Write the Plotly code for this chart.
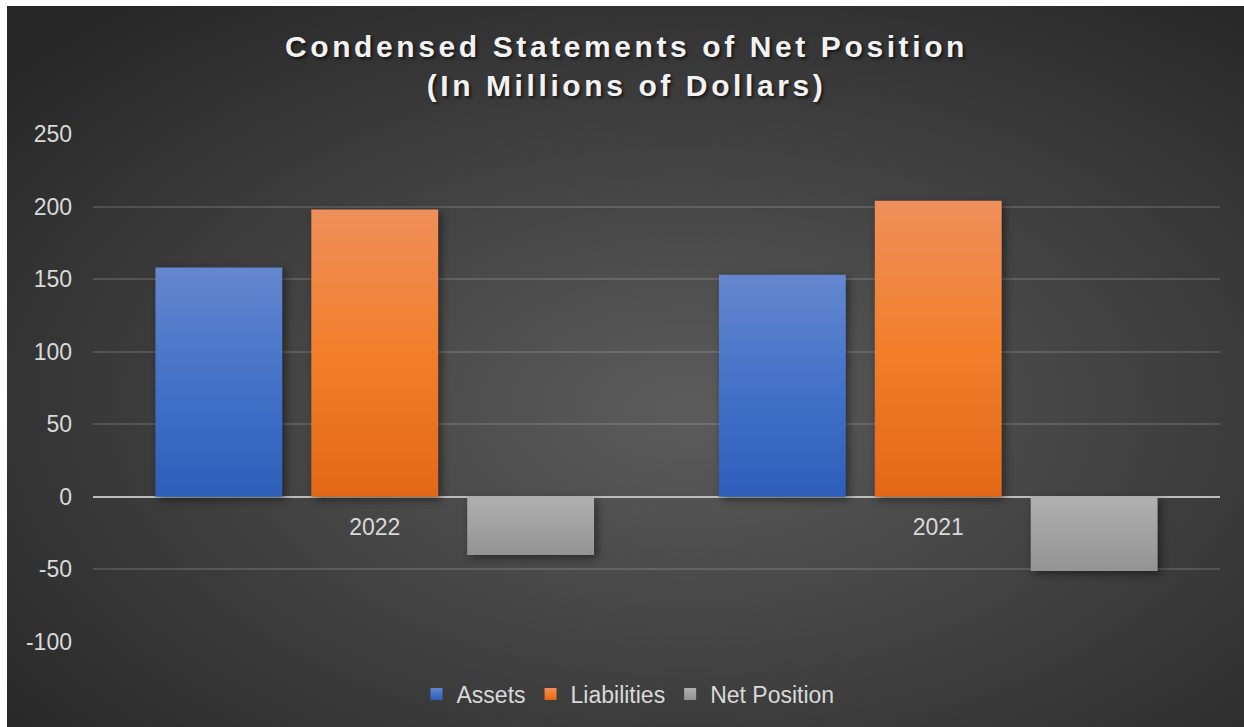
import base64
import plotly.graph_objects as go

# ---- data ----
categories = ["2022", "2021"]
assets = [158, 153]
liabilities = [198, 204]
net_position = [-40, -51]
series_names = ["Assets", "Liabilities", "Net Position"]
y_tick_values = [-100, -50, 0, 50, 100, 150, 200, 250]
y_tick_labels = ["-100", "-50", "0", "50", "100", "150", "200", "250"]
y_min, y_max = -100, 250

title_text = "Condensed Statements of Net Position<br>(In Millions of Dollars)"

W, H = 1244, 727
ML, MR, MT, MB = 93, 24, 134, 85
PW, PH = W - ML - MR, H - MT - MB

# radial background (as an svg image)
bg_svg = (
    '<svg xmlns="http://www.w3.org/2000/svg" width="1237" height="721" viewBox="0 0 1237 721" preserveAspectRatio="none">'
    '<defs><radialGradient id="g" cx="0.55" cy="0.56" r="0.72">'
    '<stop offset="0" stop-color="#5c5c5c"/><stop offset="1" stop-color="#272727"/>'
    '</radialGradient></defs><rect width="1237" height="721" fill="url(#g)"/></svg>'
)
bg_uri = "data:image/svg+xml;base64," + base64.b64encode(bg_svg.encode()).decode()

font_family = "Liberation Sans, Arial, sans-serif"
txt_color = "#d9d9d9"

fig = go.Figure()
fig.add_trace(go.Bar(name=series_names[0], x=categories, y=assets, marker=dict(color="#4472C4", line=dict(width=0))))
fig.add_trace(go.Bar(name=series_names[1], x=categories, y=liabilities, marker=dict(color="#F07C28", line=dict(width=0))))
fig.add_trace(go.Bar(name=series_names[2], x=categories, y=net_position, marker=dict(color="#A5A5A5", line=dict(width=0))))

zero_pos = (0 - y_min) / (y_max - y_min)

fig.update_layout(
    width=W, height=H,
    margin=dict(l=ML, r=MR, t=MT, b=MB, pad=0),
    paper_bgcolor="white",
    plot_bgcolor="rgba(0,0,0,0)",
    barmode="group",
    bargap=0.17,
    bargroupgap=0.186,
    font=dict(family=font_family, color=txt_color, size=23),
    title=dict(
        text=title_text,
        x=626.5 / W, xref="container", xanchor="center",
        y=1 - 57 / H, yref="container", yanchor="middle",
        font=dict(family=font_family, size=30, color="#f2f2f2", weight="bold",
                  shadow="2px 2px 3px rgba(0,0,0,0.6)"),
    ),
    xaxis=dict(
        type="category",
        anchor="free", position=zero_pos,
        showline=False, showgrid=False, zeroline=False,
        ticks="", ticklabelstandoff=14,
        tickfont=dict(size=23, color=txt_color, family=font_family),
    ),
    yaxis=dict(
        range=[y_min, y_max],
        tickmode="array", tickvals=y_tick_values, ticktext=y_tick_labels,
        showgrid=True, gridcolor="rgba(255,255,255,0.14)", gridwidth=1.5,
        zeroline=True, zerolinecolor="#bdbdbd", zerolinewidth=2,
        showline=False, ticks="", ticklabelstandoff=20,
        tickfont=dict(size=23, color=txt_color, family=font_family),
    ),
    legend=dict(
        orientation="h", x=(628 - ML) / PW, xanchor="center",
        y=-(694 - (MT + PH)) / PH, yanchor="middle",
        font=dict(size=23, color=txt_color, family=font_family),
        bgcolor="rgba(0,0,0,0)",
        traceorder="normal",
    ),
    showlegend=True,
    hovermode=False,
    images=[dict(
        source=bg_uri, xref="paper", yref="paper",
        x=(7 - ML) / PW, y=(MT + PH - 6) / PH,
        sizex=1237 / PW, sizey=721 / PH,
        xanchor="left", yanchor="top", sizing="stretch", layer="below",
    )],
)

post_script = r"""
(function(){
  var svgns='http://www.w3.org/2000/svg';
  var s=document.createElementNS(svgns,'svg');
  s.setAttribute('width','0'); s.setAttribute('height','0');
  s.style.position='absolute'; s.style.left='0'; s.style.top='0';
  s.innerHTML='<defs>'+
   '<linearGradient id="gA" x1="0" y1="0" x2="0" y2="1"><stop offset="0" stop-color="#6487CF"/><stop offset="0.5" stop-color="#4472C8"/><stop offset="1" stop-color="#2D5EBA"/></linearGradient>'+
   '<linearGradient id="gL" x1="0" y1="0" x2="0" y2="1"><stop offset="0" stop-color="#F08F5A"/><stop offset="0.5" stop-color="#F27E2B"/><stop offset="1" stop-color="#E26818"/></linearGradient>'+
   '<linearGradient id="gN" x1="0" y1="0" x2="0" y2="1"><stop offset="0" stop-color="#B0B0B0"/><stop offset="1" stop-color="#939393"/></linearGradient>'+
   '</defs>';
  document.body.appendChild(s);
  var st=document.createElement('style');
  st.textContent=
   '.barlayer .trace:nth-child(1) .point path{fill:url(#gA)!important}'+
   '.barlayer .trace:nth-child(2) .point path{fill:url(#gL)!important}'+
   '.barlayer .trace:nth-child(3) .point path{fill:url(#gN)!important}'+
   '.barlayer .point path{filter:drop-shadow(3px 3px 4px rgba(0,0,0,0.45))}'+
   '.legend .traces:nth-child(1) .legendpoints path{fill:url(#gA)!important}'+
   '.legend .traces:nth-child(2) .legendpoints path{fill:url(#gL)!important}'+
   '.legend .traces:nth-child(3) .legendpoints path{fill:url(#gN)!important}'+
   '.gtitle{letter-spacing:3.6px}';
  document.head.appendChild(st);
})();
"""

fig.write_html("out.html", config={"displayModeBar": False}, post_script=post_script)
